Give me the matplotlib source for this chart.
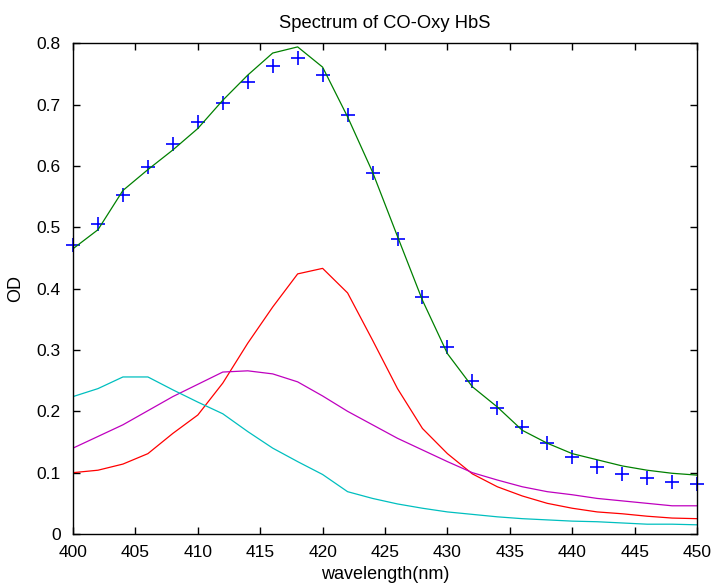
import numpy as np
import matplotlib
matplotlib.use("Agg")
import matplotlib.pyplot as plt

plt.rcParams['font.family'] = ['Liberation Sans', 'DejaVu Sans']

wl = np.arange(400, 451, 2)

# measured spectrum (blue crosses)
od_meas = [0.471, 0.505, 0.553, 0.598, 0.635, 0.671, 0.703, 0.736, 0.763, 0.776,
           0.749, 0.683, 0.589, 0.481, 0.386, 0.305, 0.249, 0.205, 0.175, 0.149,
           0.126, 0.109, 0.098, 0.092, 0.084, 0.081]

# fitted sum (green)
od_fit = [0.465, 0.496, 0.560, 0.594, 0.626, 0.661, 0.707, 0.748, 0.784, 0.794,
          0.761, 0.680, 0.590, 0.485, 0.381, 0.294, 0.240, 0.207, 0.169, 0.148,
          0.131, 0.121, 0.111, 0.104, 0.099, 0.096]

# components
od_red = [0.100, 0.104, 0.114, 0.131, 0.164, 0.194, 0.246, 0.311, 0.370, 0.424,
          0.433, 0.393, 0.316, 0.237, 0.172, 0.131, 0.098, 0.077, 0.062, 0.050,
          0.042, 0.036, 0.033, 0.029, 0.026, 0.025]
od_mag = [0.140, 0.159, 0.178, 0.201, 0.224, 0.244, 0.264, 0.266, 0.261, 0.248,
          0.225, 0.200, 0.178, 0.156, 0.137, 0.118, 0.100, 0.088, 0.077, 0.069,
          0.064, 0.058, 0.054, 0.050, 0.046, 0.046]
od_cyan = [0.224, 0.237, 0.256, 0.256, 0.235, 0.215, 0.196, 0.167, 0.140, 0.118,
           0.097, 0.069, 0.058, 0.049, 0.042, 0.036, 0.032, 0.028, 0.025, 0.023,
           0.021, 0.020, 0.018, 0.016, 0.016, 0.015]

fig = plt.figure(figsize=(7.13, 5.84), dpi=100)
ax = fig.add_axes([0.1024, 0.0856, 0.8752, 0.8404])

ax.plot(wl, od_meas, '+', color='#0000ff', markersize=9.5, mew=1.2, clip_on=False)
ax.plot(wl, od_fit, color='#008000', lw=0.9)
ax.plot(wl, od_red, color='#ff0000', lw=0.9)
ax.plot(wl, od_mag, color='#bf00bf', lw=0.9)
ax.plot(wl, od_cyan, color='#00bfbf', lw=0.9)

ax.set_xlim(400, 450)
ax.set_ylim(0, 0.8)
ax.set_xticks(np.arange(400, 451, 5))
ax.set_yticks(np.arange(0, 0.81, 0.1))
ax.set_yticklabels(['0', '0.1', '0.2', '0.3', '0.4', '0.5', '0.6', '0.7', '0.8'])
ax.tick_params(direction='in', length=5, width=1, top=True, right=True,
               labelsize=12.5)
ax.tick_params(axis='x', pad=8)
ax.tick_params(axis='y', pad=9)
for s in ax.spines.values():
    s.set_linewidth(1)

ax.set_title('Spectrum of CO-Oxy HbS', fontsize=13.2, pad=11)
ax.set_xlabel('wavelength(nm)', fontsize=13, labelpad=4)
ax.set_ylabel('OD', fontsize=13, labelpad=9)

fig.savefig('out.png', dpi=100)
